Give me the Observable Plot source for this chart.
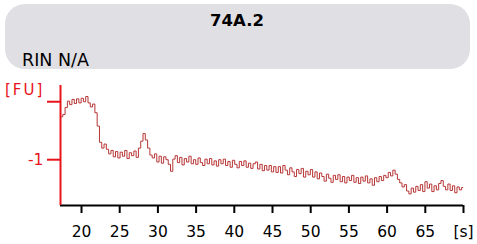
<!DOCTYPE html>
<html><head><meta charset="utf-8">
<script src="https://cdn.jsdelivr.net/npm/d3@7"></script>
<script src="https://cdn.jsdelivr.net/npm/@observablehq/plot@0.6"></script>
<style>html,body{margin:0;padding:0;background:#fff}</style>
</head><body><div id="chart"></div>
<script>
const title = "74A.2";
const subtitle = "RIN N/A";
const yUnit = "[FU]";
const xTicks = [20,25,30,35,40,45,50,55,60,65,70];
const xTickLabels = ["20","25","30","35","40","45","50","55","60","65","[s]"];
const yTicks = [0,-1];
const yTickLabels = ["","-1"];
const xDomain = [17.25, 70];
const yDomain = [-1.79, 0.28];

const times = [
17.4,17.7,18.0,18.3,18.6,18.9,19.2,19.5,19.8,20.1,
20.4,20.7,21.0,21.3,21.6,21.9,22.2,22.5,22.8,23.1,
23.4,23.7,24.0,24.3,24.6,24.9,25.2,25.5,25.8,26.1,
26.4,26.7,27.0,27.3,27.6,27.9,28.2,28.5,28.8,29.1,
29.4,29.7,30.0,30.3,30.6,30.9,31.2,31.5,31.8,32.1,
32.4,32.7,33.0,33.3,33.6,33.9,34.2,34.5,34.8,35.1,
35.4,35.7,36.0,36.3,36.6,36.9,37.2,37.5,37.8,38.1,
38.4,38.7,39.0,39.3,39.6,39.9,40.2,40.5,40.8,41.1,
41.4,41.7,42.0,42.3,42.6,42.9,43.2,43.5,43.8,44.1,
44.4,44.7,45.0,45.3,45.6,45.9,46.2,46.5,46.8,47.1,
47.4,47.7,48.0,48.3,48.6,48.9,49.2,49.5,49.8,50.1,
50.4,50.7,51.0,51.3,51.6,51.9,52.2,52.5,52.8,53.1,
53.4,53.7,54.0,54.3,54.6,54.9,55.2,55.5,55.8,56.1,
56.4,56.7,57.0,57.3,57.6,57.9,58.2,58.5,58.8,59.1,
59.4,59.7,60.0,60.3,60.6,60.9,61.2,61.5,61.8,62.1,
62.4,62.7,63.0,63.3,63.6,63.9,64.2,64.5,64.8,65.1,
65.4,65.7,66.0,66.3,66.6,66.9,67.2,67.5,67.8,68.1,
68.4,68.7,69.0,69.3,69.6,69.9];

const fu = [
-0.26,-0.22,-0.10,0.01,-0.05,0.04,-0.03,0.05,-0.02,0.06,
0.00,0.09,-0.02,-0.09,-0.04,-0.19,-0.42,-0.70,-0.80,-0.73,
-0.82,-0.90,-0.84,-0.95,-0.86,-0.97,-0.87,-0.94,-0.84,-0.98,
-0.88,-0.93,-0.85,-0.96,-0.80,-0.68,-0.55,-0.66,-0.80,-0.92,
-0.97,-0.90,-1.04,-0.94,-1.06,-0.95,-1.00,-1.08,-1.20,-0.99,
-0.93,-1.05,-0.96,-1.09,-0.98,-1.04,-0.94,-1.07,-1.00,-1.08,
-0.97,-1.05,-1.10,-0.99,-1.07,-0.98,-1.09,-1.02,-1.11,-1.00,
-1.07,-0.99,-1.10,-1.03,-1.13,-1.01,-1.08,-1.14,-1.03,-1.10,
-1.02,-1.13,-1.06,-1.15,-1.07,-1.04,-1.16,-1.08,-1.19,-1.10,
-1.18,-1.10,-1.21,-1.12,-1.22,-1.12,-1.23,-1.10,-1.18,-1.26,
-1.14,-1.21,-1.29,-1.17,-1.24,-1.15,-1.30,-1.20,-1.26,-1.17,
-1.30,-1.21,-1.33,-1.23,-1.29,-1.37,-1.25,-1.32,-1.39,-1.27,
-1.34,-1.26,-1.38,-1.29,-1.40,-1.30,-1.36,-1.27,-1.39,-1.31,
-1.41,-1.30,-1.37,-1.28,-1.40,-1.33,-1.44,-1.31,-1.38,-1.29,
-1.36,-1.27,-1.31,-1.22,-1.28,-1.18,-1.25,-1.34,-1.40,-1.47,
-1.43,-1.54,-1.59,-1.49,-1.56,-1.46,-1.53,-1.43,-1.55,-1.38,
-1.49,-1.42,-1.55,-1.45,-1.52,-1.41,-1.36,-1.46,-1.52,-1.42,
-1.53,-1.45,-1.57,-1.47,-1.52,-1.48];

const data = times.map((t, i) => ({t, v: fu[i]}));
const FONT = "DejaVu Sans";

const plot = Plot.plot({
  width: 477, height: 244,
  marginLeft: 60, marginRight: 14, marginTop: 85, marginBottom: 39,
  style: {fontFamily: FONT, background: "#fff", overflow: "visible"},
  x: {domain: xDomain},
  y: {domain: yDomain},
  marks: [
    Plot.line(data, {x: "t", y: "v", curve: "step", stroke: "#b83636", strokeWidth: 1}),
    Plot.axisY(yTicks, {tickSize: 13, tickPadding: 4, stroke: "#e8141c", strokeWidth: 2, fill: "#e8141c",
      fontSize: 15.5, tickFormat: (d) => yTickLabels[yTicks.indexOf(d)], label: null}),
    Plot.axisX(xTicks, {tickSize: 8, tickPadding: 12, stroke: "#000", strokeWidth: 2, fill: "#000",
      fontSize: 15.5, tickFormat: d => xTickLabels[xTicks.indexOf(d)], label: null}),
    Plot.ruleY([yDomain[0]], {x1: xDomain[0], x2: xDomain[1], stroke: "#000", strokeWidth: 2}),
    Plot.ruleX([xDomain[0]], {y1: yDomain[0], y2: yDomain[1], stroke: "#e8141c", strokeWidth: 2})
  ]
});

const svg = d3.select(plot);
svg.insert("rect", ":first-child")
  .attr("x", 5).attr("y", 4).attr("width", 465).attr("height", 65)
  .attr("rx", 20).attr("ry", 20).attr("fill", "#e0dfe4");
svg.append("text").attr("x", 237).attr("y", 26).attr("text-anchor", "middle")
  .attr("font-family", FONT).attr("font-weight", "bold").attr("font-size", 16.5).attr("fill", "#000")
  .text(title);
svg.append("text").attr("x", 22).attr("y", 65.5).attr("text-anchor", "start")
  .attr("font-family", FONT).attr("font-size", 17.5).attr("fill", "#000")
  .text(subtitle);
svg.append("text").attr("x", 5).attr("y", 95).attr("text-anchor", "start")
  .attr("font-family", FONT).attr("font-size", 15).attr("letter-spacing", 2).attr("fill", "#e8141c")
  .text(yUnit);
document.getElementById("chart").appendChild(plot);
</script>
</body></html>
